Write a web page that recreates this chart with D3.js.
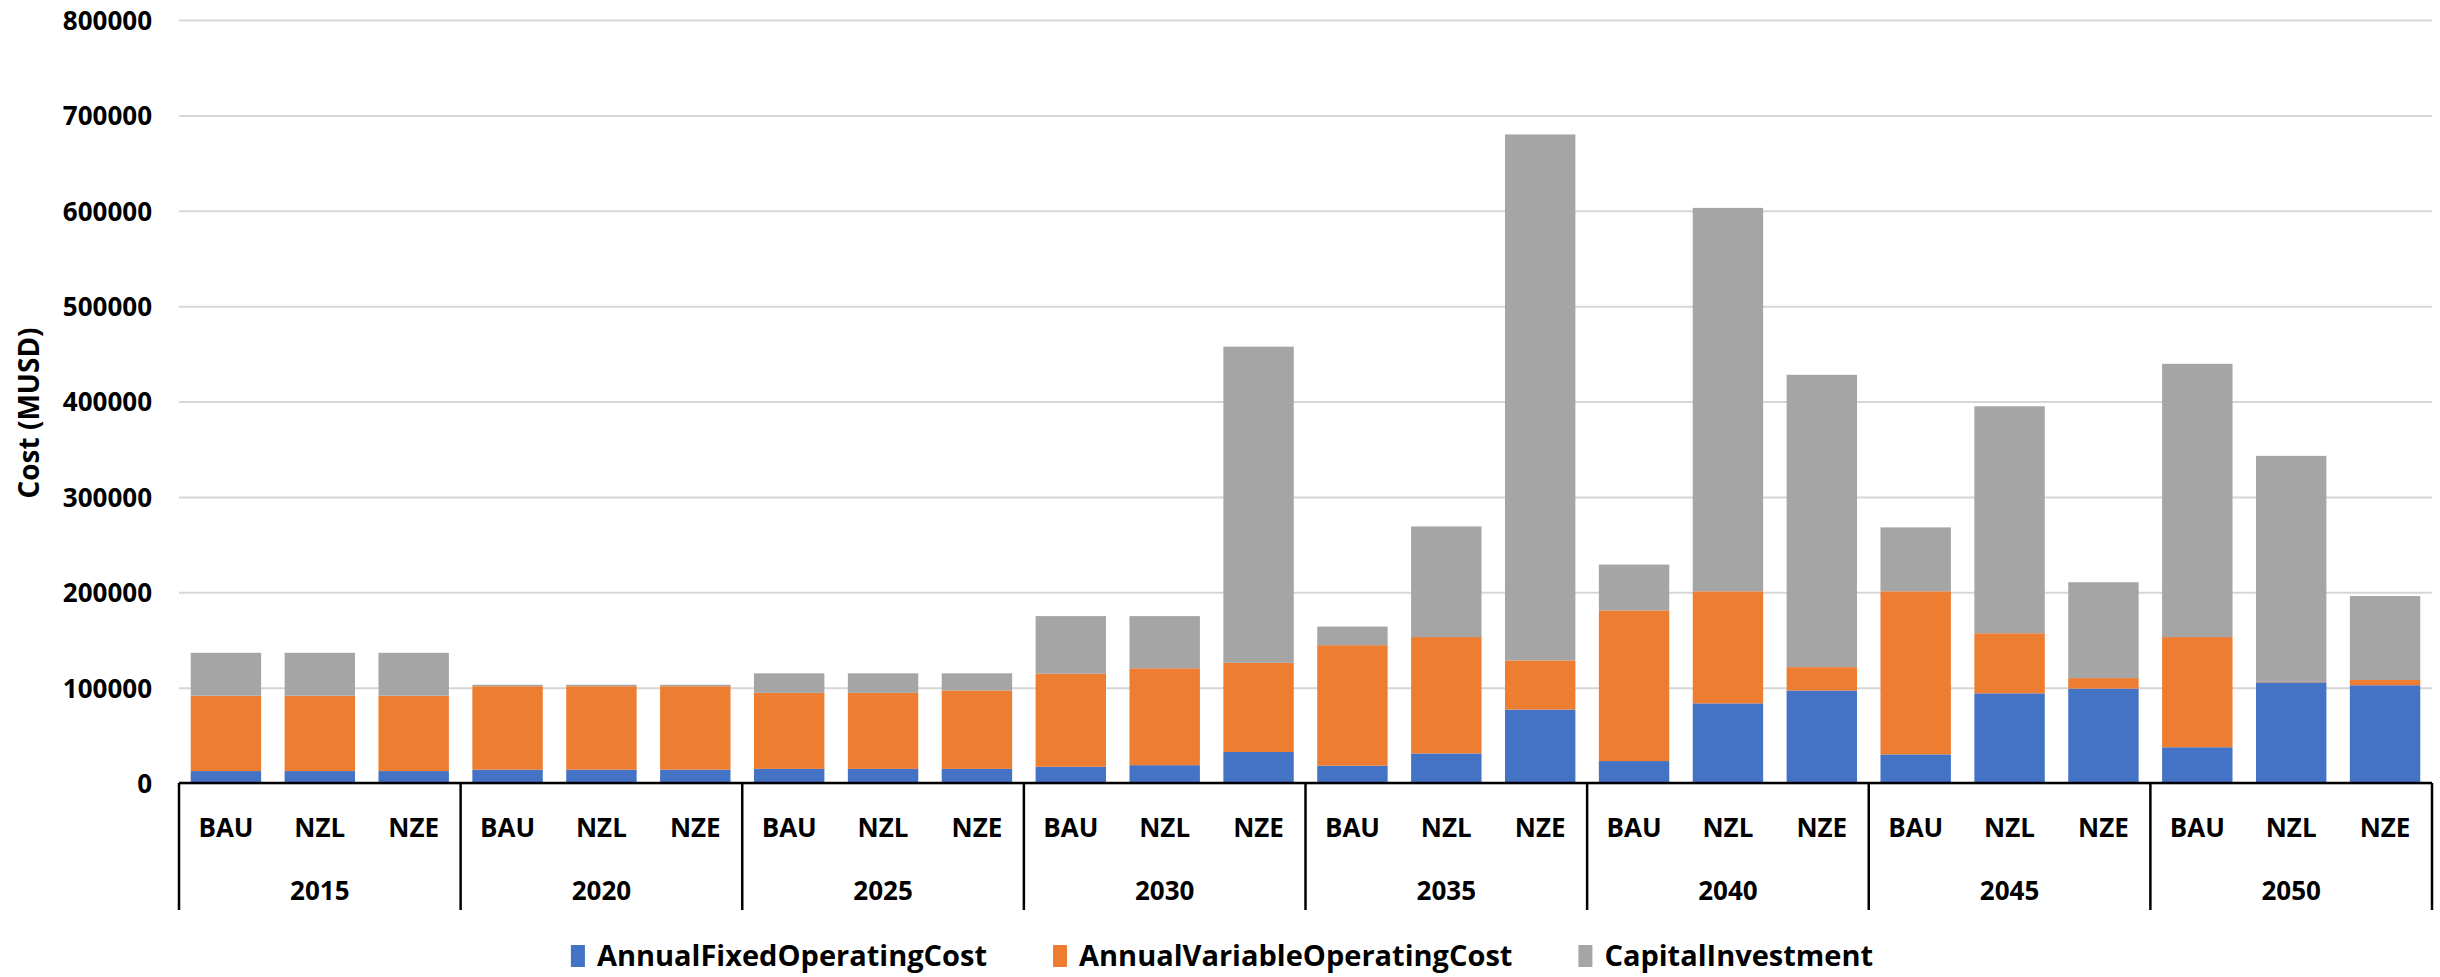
<!DOCTYPE html>
<html>
<head>
<meta charset="utf-8">
<script src="https://cdn.jsdelivr.net/npm/d3@7"></script>
<style>
  html, body { margin: 0; padding: 0; background: #fff; }
  svg text { font-family: "Open Sans", sans-serif; font-weight: bold; fill: #000; }
</style>
</head>
<body>
<svg id="chart" width="2440" height="977"></svg>
<script>
const years = ["2015", "2020", "2025", "2030", "2035", "2040", "2045", "2050"];
const scenarios = ["BAU", "NZL", "NZE"];
const seriesNames = ["AnnualFixedOperatingCost", "AnnualVariableOperatingCost", "CapitalInvestment"];

// one value per bar: 2015 BAU, 2015 NZL, 2015 NZE, 2020 BAU, ...
const fixedCost = [12500, 12500, 12500, 14000, 14000, 14000, 14800, 14800, 14800, 17000, 18700, 32500,
  18100, 31000, 77000, 23000, 83500, 97000, 30000, 94000, 99000, 37500, 105500, 102500];
const variableCost = [79000, 79000, 79000, 87500, 87500, 87500, 79700, 79700, 82200, 97600, 101600, 93500,
  126400, 122000, 51500, 158000, 117500, 24500, 171000, 63000, 11000, 115500, 500, 5500];
const capitalInvestment = [45000, 45000, 45000, 1500, 1500, 1500, 20500, 20500, 18000, 60400, 54700, 331500,
  19500, 116000, 551500, 48000, 402000, 306500, 67000, 238000, 100500, 286500, 237000, 88000];

const yTicks = [0, 100000, 200000, 300000, 400000, 500000, 600000, 700000, 800000];
const colors = ["#4472C4", "#ED7D31", "#A5A5A5"];

const svg = d3.select("#chart");
const margin = { top: 20, right: 8, bottom: 194, left: 179 };
const width = 2440;
const height = 977;
const plotBottom = height - margin.bottom;

// table for d3.stack
const rows = fixedCost.map((f, i) => ({
  id: i,
  year: years[Math.floor(i / scenarios.length)],
  scenario: scenarios[i % scenarios.length],
  [seriesNames[0]]: f,
  [seriesNames[1]]: variableCost[i],
  [seriesNames[2]]: capitalInvestment[i]
}));

const stacked = d3.stack().keys(seriesNames)(rows);

const x = d3
  .scaleBand()
  .domain(rows.map(d => d.id))
  .range([margin.left, width - margin.right])
  .paddingInner(0.25)
  .paddingOuter(0.125);

const xGroup = d3
  .scaleBand()
  .domain(years)
  .range([margin.left, width - margin.right]);

const y = d3
  .scaleLinear()
  .domain([0, 800000])
  .range([plotBottom, margin.top]);

const color = d3.scaleOrdinal().domain(seriesNames).range(colors);

// gridlines + y labels
svg
  .append("g")
  .attr("transform", `translate(${margin.left},0)`)
  .call(
    d3
      .axisLeft(y)
      .tickValues(yTicks)
      .tickFormat(d => d)
      .tickSize(-(width - margin.left - margin.right))
      .tickPadding(27)
  )
  .call(g => g.select(".domain").remove())
  .call(g =>
    g
      .selectAll(".tick line")
      .attr("stroke", "#d6d6d6")
      .attr("stroke-width", 2)
  )
  .call(g =>
    g
      .selectAll(".tick text")
      .attr("font-size", 26)
      .attr("dy", "0.36em")
      .style("font-family", "'Open Sans', sans-serif")
  );

// bars
svg
  .append("g")
  .selectAll("g")
  .data(stacked)
  .join("g")
  .attr("fill", d => color(d.key))
  .selectAll("rect")
  .data(d => d)
  .join("rect")
  .attr("x", d => x(d.data.id))
  .attr("y", d => y(d[1]))
  .attr("width", x.bandwidth())
  .attr("height", d => y(d[0]) - y(d[1]));

// category axis: baseline, group separators, labels
const axisG = svg.append("g");

axisG
  .append("line")
  .attr("x1", margin.left)
  .attr("x2", width - margin.right)
  .attr("y1", y(0))
  .attr("y2", y(0))
  .attr("stroke", "#000")
  .attr("stroke-width", 2.5);

axisG
  .selectAll(".sep")
  .data(years.map(yr => xGroup(yr)).concat([width - margin.right]))
  .join("line")
  .attr("class", "sep")
  .attr("x1", d => d)
  .attr("x2", d => d)
  .attr("y1", y(0))
  .attr("y2", y(0) + 127)
  .attr("stroke", "#000")
  .attr("stroke-width", 2.5);

axisG
  .selectAll(".scen")
  .data(rows)
  .join("text")
  .attr("class", "scen")
  .attr("x", d => x(d.id) + x.bandwidth() / 2)
  .attr("y", y(0) + 54)
  .attr("text-anchor", "middle")
  .attr("font-size", 26)
  .text(d => d.scenario);

axisG
  .selectAll(".year")
  .data(years)
  .join("text")
  .attr("class", "year")
  .attr("x", d => xGroup(d) + xGroup.bandwidth() / 2)
  .attr("y", y(0) + 117)
  .attr("text-anchor", "middle")
  .attr("font-size", 26)
  .text(d => d);

// y axis title
svg
  .append("text")
  .attr("transform", `translate(39,${413}) rotate(-90)`)
  .attr("text-anchor", "middle")
  .attr("font-size", 28)
  .text("Cost (MUSD)");

// legend
const legend = svg.append("g");
const items = legend
  .selectAll("g")
  .data(seriesNames)
  .join("g");

items
  .append("rect")
  .attr("y", 945)
  .attr("width", 14)
  .attr("height", 22)
  .attr("fill", d => color(d));

items
  .append("text")
  .attr("x", 26)
  .attr("y", 966)
  .attr("font-size", 29)
  .text(d => d);

let offset = 0;
items.each(function () {
  const w = 26 + d3.select(this).select("text").node().getComputedTextLength();
  d3.select(this).attr("data-w", w).attr("transform", `translate(${offset},0)`);
  offset += w + 66;
});
const legendWidth = offset - 66;
legend.attr("transform", `translate(${1222 - legendWidth / 2},0)`);
</script>
</body>
</html>
